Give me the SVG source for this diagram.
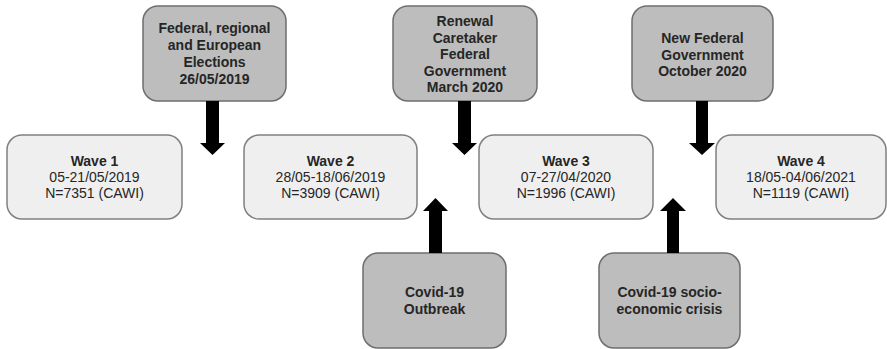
<svg xmlns="http://www.w3.org/2000/svg" width="887" height="349" viewBox="0 0 887 349">
<style>
.ev rect{fill:#bdbdbd;stroke:#6e6e6e;stroke-width:1.5}
.wv rect{fill:#efefef;stroke:#808080;stroke-width:1.5}
text{font-family:"Liberation Sans",Arial,sans-serif;font-size:14px;fill:#262626;text-anchor:middle}
.b{font-weight:bold}
.arr path{fill:#000}
</style>
<rect width="887" height="349" fill="#fff"/>
<g id="event1" class="ev"><rect x="143" y="6" width="143" height="95" rx="15"/>
<text class="b" x="214.5" y="33">Federal, regional</text><text class="b" x="214.5" y="50">and European</text><text class="b" x="214.5" y="67">Elections</text><text class="b" x="214.5" y="84">26/05/2019</text></g>
<g id="event2" class="ev"><rect x="393" y="6" width="144" height="95" rx="15"/>
<text class="b" x="465" y="26">Renewal</text><text class="b" x="465" y="42.5">Caretaker</text><text class="b" x="465" y="59">Federal</text><text class="b" x="465" y="75.5">Government</text><text class="b" x="465" y="92">March 2020</text></g>
<g id="event3" class="ev"><rect x="632" y="6" width="141" height="95" rx="15"/>
<text class="b" x="702.5" y="43">New Federal</text><text class="b" x="702.5" y="59.5">Government</text><text class="b" x="702.5" y="76">October 2020</text></g>
<g id="wave1" class="wv"><rect x="7" y="135" width="175" height="84" rx="15"/>
<text class="b" x="94.5" y="166">Wave 1</text><text x="94.5" y="182">05-21/05/2019</text><text x="94.5" y="198">N=7351 (CAWI)</text></g>
<g id="wave2" class="wv"><rect x="244" y="135" width="173" height="84" rx="15"/>
<text class="b" x="330.5" y="166">Wave 2</text><text x="330.5" y="182">28/05-18/06/2019</text><text x="330.5" y="198">N=3909 (CAWI)</text></g>
<g id="wave3" class="wv"><rect x="479" y="135" width="174" height="84" rx="15"/>
<text class="b" x="566" y="166">Wave 3</text><text x="566" y="182">07-27/04/2020</text><text x="566" y="198">N=1996 (CAWI)</text></g>
<g id="wave4" class="wv"><rect x="716" y="135" width="170" height="84" rx="15"/>
<text class="b" x="801" y="166">Wave 4</text><text x="801" y="182">18/05-04/06/2021</text><text x="801" y="198">N=1119 (CAWI)</text></g>
<g id="event4" class="ev"><rect x="363" y="253" width="143" height="95" rx="15"/>
<text class="b" x="434.5" y="297">Covid-19</text><text class="b" x="434.5" y="314">Outbreak</text></g>
<g id="event5" class="ev"><rect x="599" y="253" width="141" height="95" rx="15"/>
<text class="b" x="669.5" y="297">Covid-19 socio-</text><text class="b" x="669.5" y="314">economic crisis</text></g>
<g id="connectors" class="arr">
<path d="M206,101 H219 V143 H225 L212.5,155 L200,143 H206 Z"/>
<path d="M458,101 H471 V143 H477 L464.5,155 L452,143 H458 Z"/>
<path d="M696,101 H708 V143 H715 L702,155 L689,143 H696 Z"/>
<path d="M429,253 H442 V211 H448 L435.5,198 L423,211 H429 Z"/>
<path d="M667,253 H679 V211 H686 L673,198 L660,211 H667 Z"/>
</g>
</svg>
